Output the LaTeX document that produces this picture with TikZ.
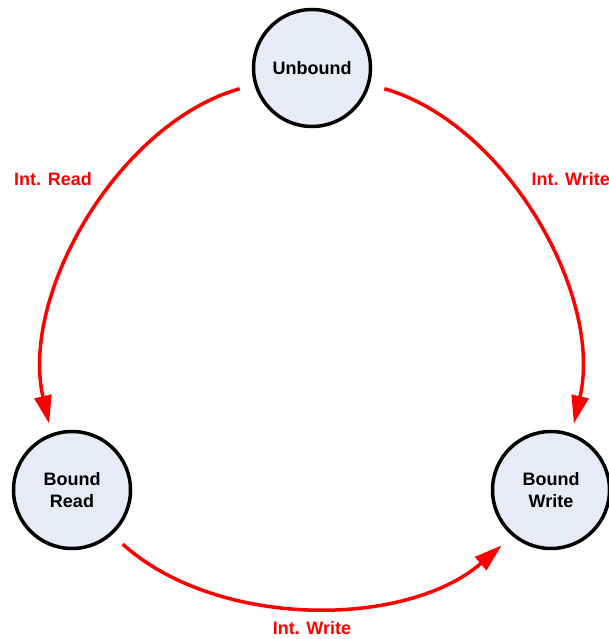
\documentclass[tikz,border=0pt]{standalone}
\usepackage{fontspec}
\setmainfont{Liberation Sans}
\usepackage{xcolor}
\usepackage{tikz}
\usetikzlibrary{arrows.meta}
\definecolor{ink}{HTML}{000000}
\definecolor{hot}{HTML}{FF0000}
\definecolor{pale}{HTML}{E6EBF5}
\tikzset{
  state/.style={circle,draw=ink,fill=pale,line width=3.5pt,minimum size=117pt,inner sep=0pt,align=center,font=\fontsize{18}{22}\selectfont\bfseries},
  trans/.style={-{Triangle[length=28pt,width=17pt]},line width=3.5pt,color=hot,looseness=0.9},
  lbl/.style={font=\fontsize{18}{22}\selectfont\bfseries,text=hot},
}

\begin{document}
\begin{tikzpicture}[x=1pt,y=1pt]
    \useasboundingbox (0,0) rectangle (609,639);
    \node[state] (unb) at (312,571) {Unbound};
    \node[state] (brd) at (72,149) {Bound\\Read};
    \node[state] (bwr) at (551,149) {Bound\\Write};
    % transitions
    \draw[trans,shorten <=15pt,shorten >=10pt] (unb.196) to[out=196,in=103] (brd.110);
    \draw[trans,shorten <=15pt,shorten >=10pt] (unb.-16) to[out=-16,in=77] (bwr.70);
    \draw[trans,shorten <=14pt,shorten >=14pt] (brd.-48) to[out=-42,in=221] (bwr.230);
    \node[lbl] (lread) at (53,460) {Int. Read};
    \node[lbl,anchor=west] (lwrite) at (528,460) {Int. Write};
    \node[lbl] (lbottom) at (312,11) {Int. Write};
\end{tikzpicture}
\end{document}
